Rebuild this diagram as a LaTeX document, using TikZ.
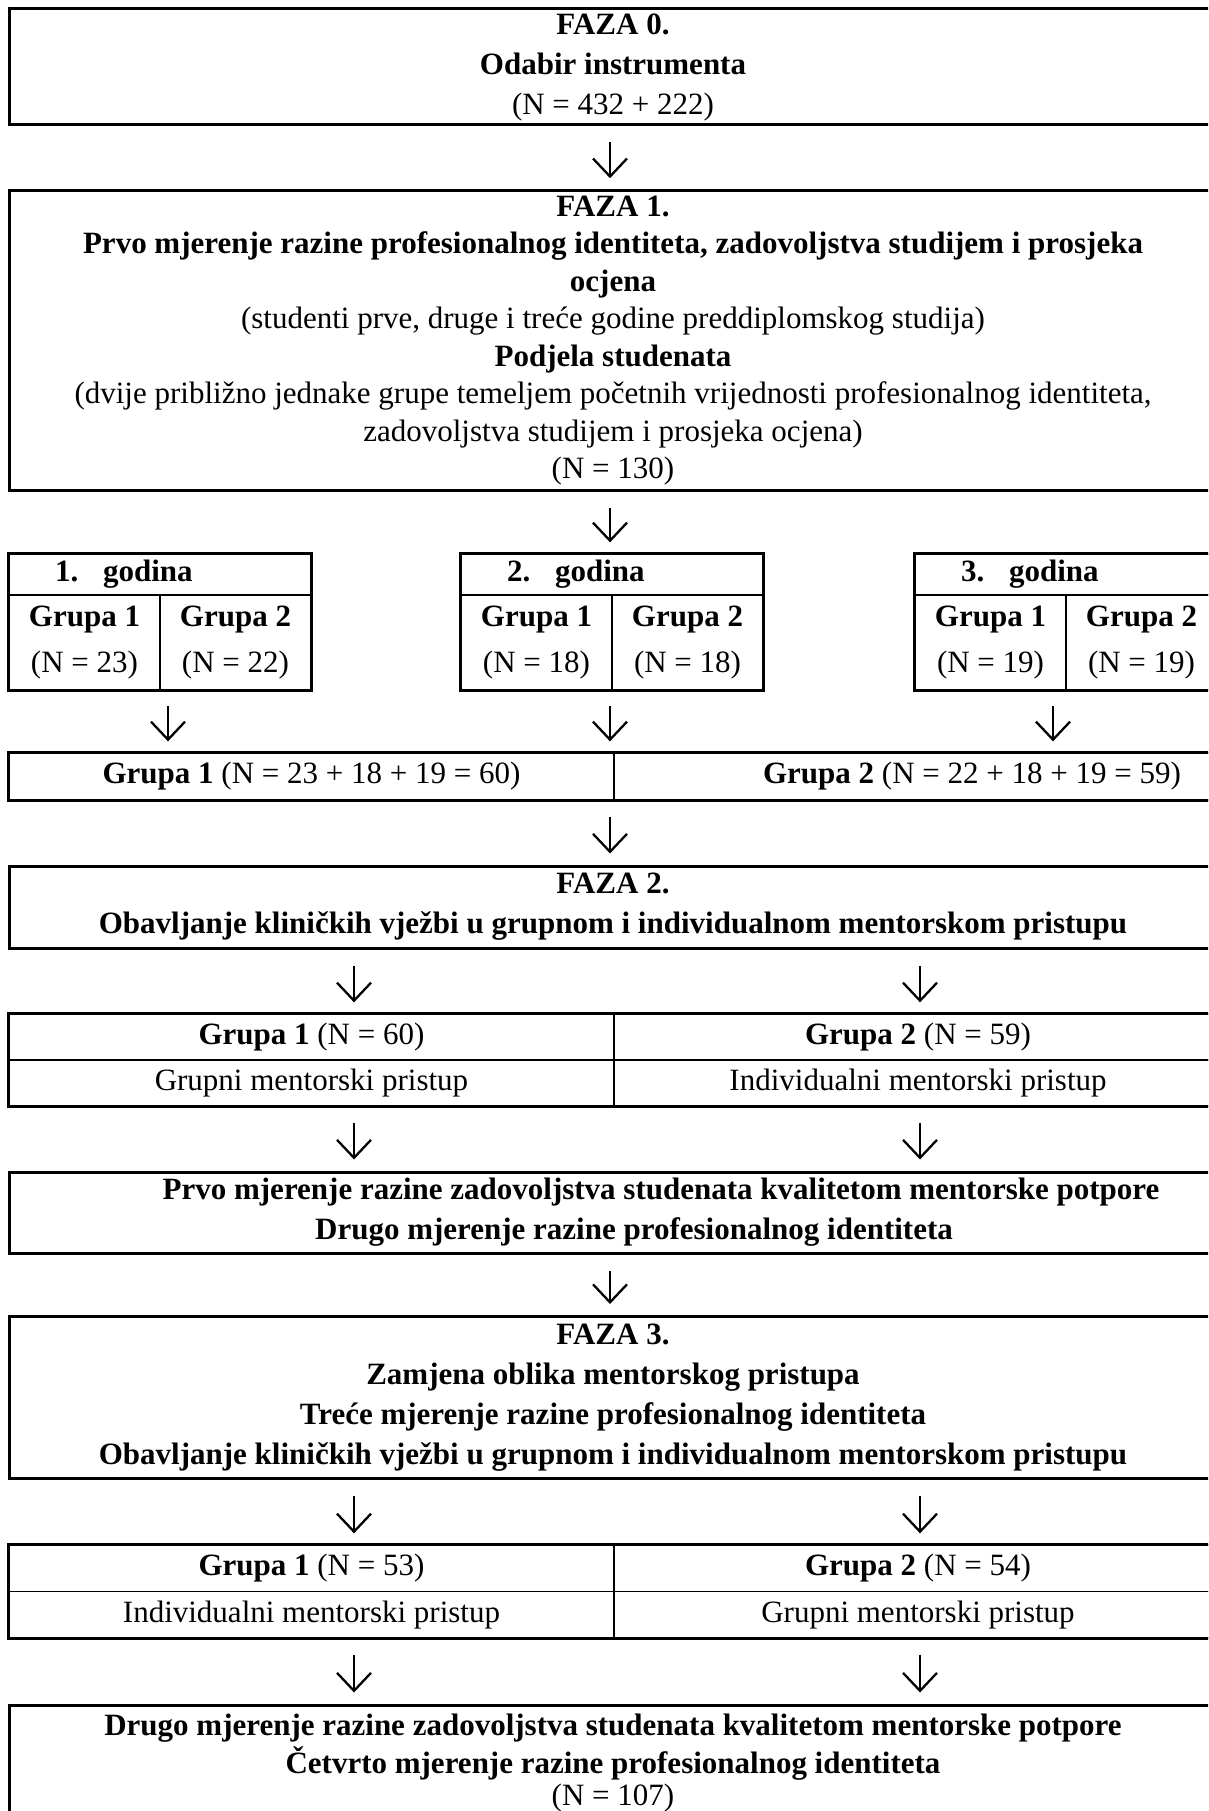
\documentclass[tikz,border=0pt]{standalone}
\usepackage{fontspec}
\setmainfont{Liberation Serif}
\usetikzlibrary{arrows.meta}
\newcommand\txtfont{\fontsize{31}{40}\selectfont}
\tikzset{
  phase/.style={draw, line width=3pt, inner sep=0pt, align=center, font=\txtfont},
  cell/.style={draw, line width=1.3pt, inner sep=0pt, align=center, font=\txtfont},
  frame/.style={draw, line width=3pt},
  flow/.style={-{Straight Barb[length=18pt,width=34pt]}, line width=2.3pt, shorten <=16pt, shorten >=11pt},
}

\begin{document}
\begin{tikzpicture}[x=1pt,y=-1pt]
  \useasboundingbox (0,0) rectangle (1208,1811);
  \clip (0,0) rectangle (1208,1811);
  % arrow columns
  \coordinate (cx) at (610,0);
  \coordinate (lx) at (354,0);
  \coordinate (rx) at (920,0);
  \coordinate (ya) at (168,0);
  \coordinate (yc) at (1053,0);

  % FAZA 0
  \node[phase, minimum width=1208pt, minimum height=116pt] (f0) at (613,67)
    {\textbf{FAZA 0.}\\\textbf{Odabir instrumenta}\\(N = 432 + 222)};

  % FAZA 1
  \node[phase, minimum width=1208pt, minimum height=300pt, font=\fontsize{31}{37.5}\selectfont] (f1) at (613,340.7)
    {\textbf{FAZA 1.}\\
     \textbf{Prvo mjerenje razine profesionalnog identiteta, zadovoljstva studijem i prosjeka}\\
     \textbf{ocjena}\\
     (studenti prve, druge i treće godine preddiplomskog studija)\\
     \textbf{Podjela studenata}\\
     (dvije približno jednake grupe temeljem početnih vrijednosti profesionalnog identiteta,\\
     zadovoljstva studijem i prosjeka ocjena)\\
     (N = 130)};

  % godine
  \foreach \i/\x/\na/\nb in {1/9/23/22, 2/461/18/18, 3/915/19/19} {
    \node[cell, minimum width=302pt, minimum height=41pt, text width=210pt, align=left] (yr\i) at (\x+151,574.5)
      {\textbf{\i.\hspace{0.8em}godina}};
    \node[cell, minimum width=151pt, minimum height=94.5pt, font=\fontsize{31}{46}\selectfont] (ga\i) at (\x+75.5,642.25)
      {\textbf{Grupa 1}\\(N = \na)};
    \node[cell, minimum width=151pt, minimum height=94.5pt, font=\fontsize{31}{46}\selectfont] (gb\i) at (\x+226.5,642.25)
      {\textbf{Grupa 2}\\(N = \nb)};
    \draw[frame] (yr\i.north west) rectangle (gb\i.south east);
  }

  % zbroj po grupama
  \node[cell, minimum width=605pt, minimum height=47pt] (s1) at (311.5,776.5) {\textbf{Grupa 1} (N = 23 + 18 + 19 = 60)};
  \node[cell, minimum width=716pt, minimum height=47pt] (s2) at (972,776.5) {\textbf{Grupa 2} (N = 22 + 18 + 19 = 59)};
  \draw[frame] (s1.north west) rectangle (s2.south east);

  % FAZA 2
  \node[phase, minimum width=1208pt, minimum height=82pt] (f2) at (613,907)
    {\textbf{FAZA 2.}\\\textbf{Obavljanje kliničkih vježbi u grupnom i individualnom mentorskom pristupu}};

  \node[cell, minimum width=605pt, minimum height=46pt] (p1) at (311.5,1037) {\textbf{Grupa 1} (N = 60)};
  \node[cell, minimum width=608pt, minimum height=46pt] (p2) at (918,1037) {\textbf{Grupa 2} (N = 59)};
  \node[cell, minimum width=605pt, minimum height=46pt] (q1) at (311.5,1083) {Grupni mentorski pristup};
  \node[cell, minimum width=608pt, minimum height=46pt] (q2) at (918,1083) {Individualni mentorski pristup};
  \draw[frame] (p1.north west) rectangle (q2.south east);

  \node[phase, minimum width=1250pt, minimum height=81pt] (m1) at (634,1212.5)
    {\hspace*{54pt}\textbf{Prvo mjerenje razine zadovoljstva studenata kvalitetom mentorske potpore}\\
     \textbf{Drugo mjerenje razine profesionalnog identiteta}};

  % FAZA 3
  \node[phase, minimum width=1208pt, minimum height=162pt] (f3) at (613,1397.5)
    {\textbf{FAZA 3.}\\
     \textbf{Zamjena oblika mentorskog pristupa}\\
     \textbf{Treće mjerenje razine profesionalnog identiteta}\\
     \textbf{Obavljanje kliničkih vježbi u grupnom i individualnom mentorskom pristupu}};

  \node[cell, minimum width=605pt, minimum height=46.5pt] (r1) at (311.5,1568.25) {\textbf{Grupa 1} (N = 53)};
  \node[cell, minimum width=608pt, minimum height=46.5pt] (r2) at (918,1568.25) {\textbf{Grupa 2} (N = 54)};
  \node[cell, minimum width=605pt, minimum height=46.5pt] (t1) at (311.5,1614.75) {Individualni mentorski pristup};
  \node[cell, minimum width=608pt, minimum height=46.5pt] (t2) at (918,1614.75) {Grupni mentorski pristup};
  \draw[frame] (r1.north west) rectangle (t2.south east);

  \node[phase, anchor=north, inner ysep=9pt, minimum width=1208pt, font=\fontsize{31}{38}\selectfont] (f4) at (613,1703.5)
    {\textbf{Drugo mjerenje razine zadovoljstva studenata kvalitetom mentorske potpore}\\
     \textbf{Četvrto mjerenje razine profesionalnog identiteta}\\[-6pt]
     (N = 107)};

  % strelice
  \draw[flow] (f0.south -| cx) -- (f1.north -| cx);
  \draw[flow] (f1.south -| cx) -- (yr2.north -| cx);
  \draw[flow] (ga1.south -| ya) -- (s1.north -| ya);
  \draw[flow] (gb2.south -| cx) -- (s1.north -| cx);
  \draw[flow] (gb3.south -| yc) -- (s2.north -| yc);
  \draw[flow] (s1.south -| cx) -- (f2.north -| cx);
  \draw[flow] (f2.south -| lx) -- (p1.north -| lx);
  \draw[flow] (f2.south -| rx) -- (p2.north -| rx);
  \draw[flow] (q1.south -| lx) -- (m1.north -| lx);
  \draw[flow] (q2.south -| rx) -- (m1.north -| rx);
  \draw[flow] (m1.south -| cx) -- (f3.north -| cx);
  \draw[flow] (f3.south -| lx) -- (r1.north -| lx);
  \draw[flow] (f3.south -| rx) -- (r2.north -| rx);
  \draw[flow] (t1.south -| lx) -- (f4.north -| lx);
  \draw[flow] (t2.south -| rx) -- (f4.north -| rx);
\end{tikzpicture}
\end{document}
